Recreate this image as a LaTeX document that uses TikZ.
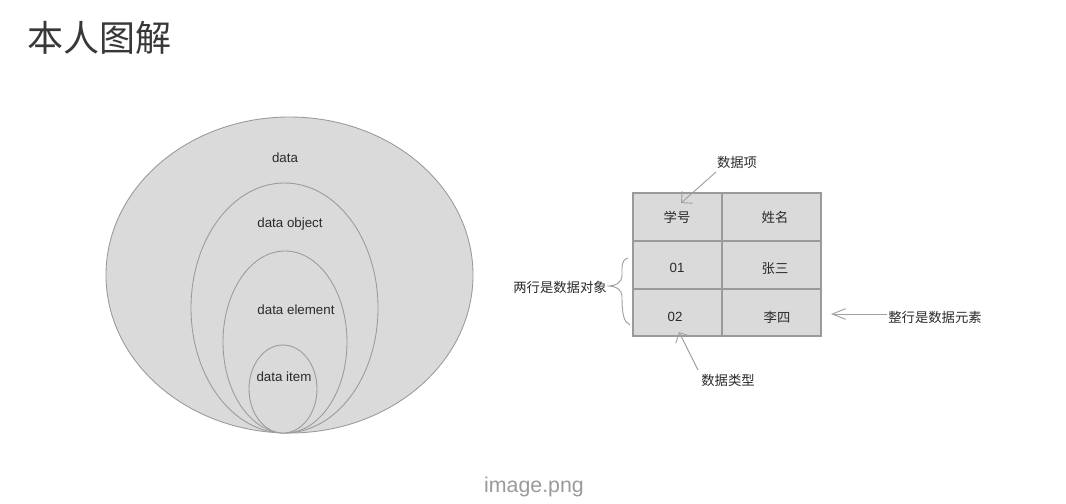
\documentclass[tikz,border=0pt]{standalone}
\usepackage{fontspec}
\setmainfont{Liberation Sans}
\newfontfamily\cjk{Noto Sans CJK SC}
\usetikzlibrary{arrows.meta}
\definecolor{ellfill}{HTML}{DADADA}
\definecolor{ellstroke}{HTML}{9A9A9A}
\definecolor{txt}{HTML}{2A2A2A}
\definecolor{titlec}{HTML}{383838}
\definecolor{arrc}{HTML}{A0A0A0}
\definecolor{capc}{HTML}{9A9A9A}
\begin{document}
\begin{tikzpicture}[x=0.75pt,y=-0.75pt,
  ell/.style={draw=ellstroke, fill=ellfill, line width=0.65pt},
  cellst/.style={draw=ellstroke, line width=0.8pt},
  lbl/.style={text=txt, font=\fontsize{10}{12}\selectfont, inner sep=0pt},
  cj/.style={text=txt, font=\cjk\fontsize{10}{12}\selectfont, inner sep=0pt},
  arr/.style={draw=arrc, line width=0.7pt, -{Straight Barb[length=6pt,width=12pt]}},
  arrlong/.style={draw=arrc, line width=0.7pt, -{Straight Barb[length=10pt,width=8pt]}}]
\useasboundingbox (0,0) rectangle (1066,503);
\fill[white] (0,0) rectangle (1066,503);
% title
\node[font=\cjk\fontsize{27}{31}\selectfont, text=titlec, anchor=west, inner sep=0pt] (title) at (27,38) {本人图解};
% nested ellipses
\draw[ell] (289.5,275) ellipse [x radius=183.5, y radius=158];
\draw[ell] (284.5,308) ellipse [x radius=93.5, y radius=125];
\draw[ell] (285,342) ellipse [x radius=62, y radius=91];
\draw[ell] (283,389) ellipse [x radius=34, y radius=44];
\node[lbl] (ldata) at (285,158) {data};
\node[lbl] (lobj) at (290,224) {data object};
\node[lbl] (lelem) at (296,310) {data element};
\node[lbl] (litem) at (284,377) {data item};
% table
\filldraw[cellst, fill=ellfill] (633,193) rectangle (821,336);
\draw[cellst] (722,193) -- (722,336);
\draw[cellst] (633,241) -- (821,241);
\draw[cellst] (633,289) -- (821,289);
\node[cj] (c11) at (677,217) {学号};
\node[cj] (c12) at (775,217) {姓名};
\node[lbl] (c21) at (677,268) {01};
\node[cj] (c22) at (775,269) {张三};
\node[lbl] (c31) at (675,317) {02};
\node[cj] (c32) at (777,317) {李四};
% annotations
\node[cj] (xiang) at (737,162) {数据项};
\coordinate (xiangtip) at (681,203);
\draw[arr] (716,172) coordinate (xs) (xs) -- (xiangtip);
\node[cj] (leixing) at (728,380) {数据类型};
\coordinate (leixingtip) at (679,332);
\draw[arr] (698,370) coordinate (ls) (ls) -- (leixingtip);
\node[cj] (yuansu) at (935,317) {整行是数据元素};
\coordinate (yuansutip) at (831,314);
\draw[arrlong] (yuansu.west) ++(-1,-3) coordinate (ys) (ys) -- (yuansutip);
\node[cj] (duixiang) at (560,287) {两行是数据对象};
\coordinate (bracetip) at (609,286);
\draw[draw=arrc, line width=0.7pt] (628,258) .. controls (621,260) and (622,267) .. (622,275)
  .. controls (622,283) and (615,286) .. (bracetip)
  .. controls (615,286) and (622,289) .. (622,297)
  .. controls (622,315) and (624,322) .. (630,325);
% caption
\node[font=\fontsize{16}{18}\selectfont, text=capc, inner sep=0pt] (cap) at (534,487) {image.png};
\end{tikzpicture}
\end{document}
